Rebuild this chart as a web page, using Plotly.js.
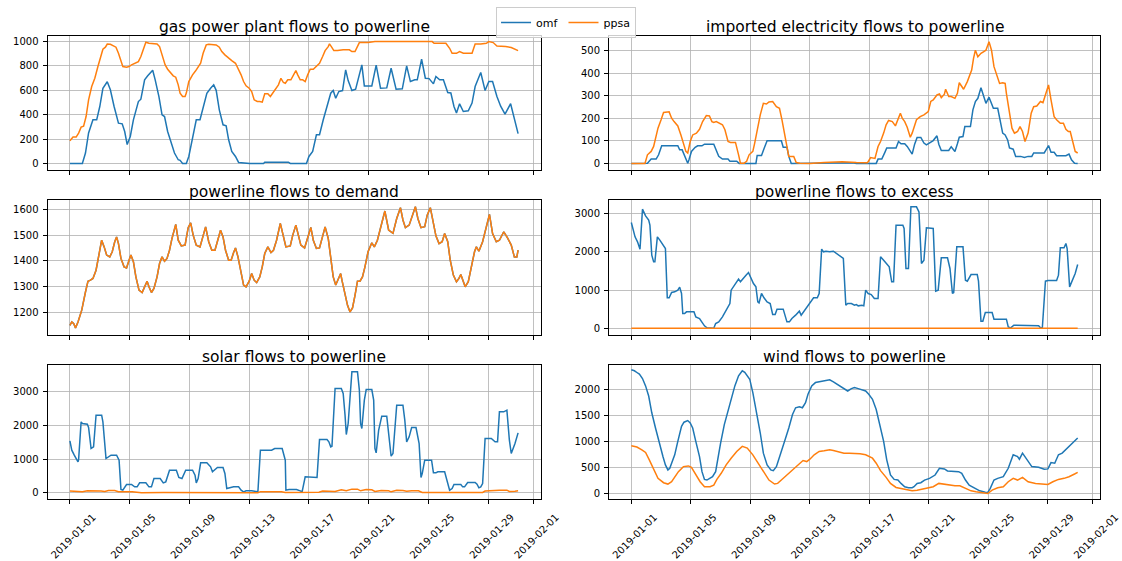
<!DOCTYPE html>
<html>
<head>
<meta charset="utf-8">
<script src="https://cdn.plot.ly/plotly-3.0.1.min.js"></script>
<style>
  html, body { margin: 0; padding: 0; background: #ffffff; }
  #chart { width: 1122px; height: 561px; }
</style>
</head>
<body>
<div id="chart"></div>
<script>
// Hourly energy flows, January 2019. Each series is a list of [hours since 2019-01-01 00:00, value].
const seriesNames = ['omf', 'ppsa'];
const panelTitles = [
  'gas power plant flows to powerline',
  'imported electricity flows to powerline',
  'powerline flows to demand',
  'powerline flows to excess',
  'solar flows to powerline',
  'wind flows to powerline'
];
const dateTicks = ['2019-01-01', '2019-01-05', '2019-01-09', '2019-01-13', '2019-01-17',
                   '2019-01-21', '2019-01-25', '2019-01-29', '2019-02-01'];

const gasOmf = [[0,0],[20,0],[25,85],[30,250],[37,358],[43,358],[48,467],[53,617],[60,670],[65,604],[71,467],[78,330],[84,325],[88,262],[92,155],[97,221],[102,358],[110,508],[114,527],[120,686],[125,719],[133,765],[137,686],[143,549],[148,399],[152,385],[157,262],[163,167],[168,85],[174,30],[177,25],[181,0],[187,0],[191,57],[197,194],[203,358],[209,358],[214,454],[220,576],[226,617],[231,645],[235,600],[240,440],[246,317],[251,309],[255,194],[260,98],[266,57],[271,8],[289,0],[311,0],[313,10],[351,10],[354,0],[380,0],[384,57],[390,98],[396,235],[401,235],[407,358],[413,467],[419,576],[423,598],[427,535],[432,590],[438,598],[443,768],[447,680],[453,598],[459,610],[469,809],[473,636],[485,636],[492,806],[499,617],[509,620],[516,781],[524,609],[534,612],[541,800],[547,672],[554,686],[558,686],[565,855],[571,699],[577,696],[584,653],[588,713],[594,686],[600,686],[607,582],[612,578],[617,467],[621,413],[626,489],[632,426],[640,432],[646,495],[651,631],[660,746],[667,598],[673,672],[679,672],[686,549],[692,470],[699,405],[708,490],[720,245]];
const gasPpsa = [[0,186],[5,216],[10,216],[14,249],[18,298],[22,305],[26,385],[30,522],[35,631],[40,699],[45,795],[49,877],[53,937],[57,954],[60,980],[65,978],[70,964],[74,954],[78,904],[81,850],[85,795],[91,790],[95,795],[99,809],[104,822],[110,836],[114,877],[118,945],[122,995],[127,986],[133,981],[140,981],[144,959],[148,891],[153,809],[157,773],[162,746],[166,719],[170,708],[174,645],[177,577],[181,549],[185,549],[187,577],[191,672],[197,727],[202,760],[206,795],[210,822],[214,904],[219,973],[223,978],[231,978],[235,973],[240,954],[244,918],[249,891],[255,863],[260,844],[266,822],[270,781],[275,727],[279,672],[283,637],[288,617],[292,590],[296,522],[301,508],[305,508],[309,503],[313,571],[318,571],[322,549],[325,571],[331,617],[335,645],[339,699],[343,664],[346,658],[350,686],[355,686],[359,719],[363,762],[366,727],[370,686],[374,686],[378,672],[382,727],[386,773],[391,773],[397,800],[401,822],[406,877],[410,926],[415,959],[417,981],[420,959],[424,926],[430,926],[439,932],[449,932],[453,918],[458,918],[462,959],[465,992],[479,992],[490,1000],[582,1000],[585,986],[604,986],[610,945],[614,904],[621,904],[626,918],[632,904],[646,904],[651,981],[660,981],[669,986],[673,1000],[680,992],[686,964],[692,964],[700,959],[709,951],[715,937],[720,926]];

const importOmf = [[0,0],[22,0],[26,1],[32,19],[40,19],[44,38],[49,78],[75,78],[78,60],[82,60],[86,31],[91,1],[93,16],[97,53],[103,71],[107,78],[114,78],[118,85],[133,85],[137,53],[141,31],[147,19],[156,19],[159,10],[170,10],[174,0],[201,0],[203,35],[210,35],[214,65],[219,100],[242,100],[245,72],[251,72],[254,31],[258,0],[311,3],[357,3],[363,0],[395,0],[398,19],[404,19],[409,49],[412,68],[427,68],[431,97],[435,87],[441,87],[445,75],[449,60],[453,41],[457,85],[461,115],[467,115],[472,90],[476,82],[481,90],[487,101],[493,122],[496,85],[500,57],[512,57],[516,74],[522,53],[526,87],[529,116],[535,119],[538,163],[547,163],[551,237],[555,274],[559,288],[564,335],[568,296],[572,266],[577,293],[579,281],[584,244],[591,244],[595,193],[599,134],[603,126],[607,104],[610,68],[616,63],[620,31],[628,31],[634,26],[640,31],[646,31],[649,46],[666,46],[670,68],[673,79],[677,49],[682,49],[686,34],[701,34],[706,41],[710,16],[715,1],[720,0]];
const importPpsa = [[0,0],[22,0],[26,38],[32,53],[36,75],[39,112],[43,156],[48,193],[52,225],[61,228],[65,200],[69,185],[75,166],[80,126],[84,90],[88,53],[91,46],[95,97],[99,126],[105,134],[110,151],[115,185],[121,212],[126,210],[130,185],[133,181],[137,185],[141,178],[147,171],[151,149],[156,97],[160,93],[168,93],[173,38],[176,1],[182,1],[186,9],[190,38],[196,53],[199,90],[203,149],[208,215],[213,266],[218,263],[222,272],[228,274],[234,251],[239,244],[243,193],[248,126],[251,75],[254,31],[262,31],[266,4],[272,1],[288,0],[311,4],[340,7],[363,4],[381,3],[386,26],[393,22],[398,75],[402,97],[407,134],[411,171],[415,190],[421,185],[426,166],[430,193],[434,222],[437,200],[441,185],[445,160],[450,116],[453,134],[456,163],[460,193],[466,207],[472,215],[479,229],[483,274],[487,281],[493,303],[497,307],[500,291],[505,306],[507,328],[512,296],[516,296],[522,288],[526,310],[529,357],[533,340],[536,328],[542,362],[545,384],[549,413],[552,465],[555,501],[559,472],[564,487],[568,494],[572,501],[577,538],[581,501],[585,428],[589,391],[594,354],[599,357],[603,354],[605,310],[610,222],[614,156],[618,134],[623,141],[627,163],[631,141],[635,97],[640,134],[645,222],[649,251],[654,254],[660,274],[664,269],[669,310],[673,347],[677,281],[682,207],[686,193],[692,178],[697,178],[701,151],[705,141],[708,141],[712,97],[716,53],[720,46]];

// Demand is served in full under both models, so the two series coincide.
const demandOmf = [[0,1149],[3,1162],[6,1156],[9,1139],[13,1162],[19,1208],[25,1279],[29,1321],[33,1325],[37,1332],[42,1364],[47,1423],[51,1481],[55,1455],[59,1423],[64,1416],[68,1436],[72,1475],[75,1494],[78,1468],[82,1410],[87,1377],[91,1373],[95,1403],[98,1423],[102,1397],[106,1338],[111,1286],[116,1277],[120,1299],[124,1321],[127,1299],[131,1277],[135,1293],[140,1338],[144,1390],[148,1416],[152,1399],[156,1410],[160,1442],[164,1488],[170,1543],[174,1481],[179,1459],[185,1462],[190,1530],[194,1549],[198,1501],[203,1462],[209,1455],[213,1488],[218,1533],[223,1475],[228,1442],[233,1442],[237,1475],[242,1520],[246,1494],[250,1442],[255,1403],[259,1403],[263,1433],[266,1451],[270,1416],[275,1351],[279,1306],[283,1299],[288,1321],[292,1351],[296,1325],[300,1316],[305,1338],[309,1377],[313,1429],[318,1455],[323,1433],[327,1442],[332,1481],[338,1547],[342,1501],[347,1455],[354,1459],[358,1501],[363,1540],[367,1501],[371,1462],[377,1451],[382,1494],[387,1531],[391,1481],[396,1449],[401,1451],[406,1501],[410,1533],[415,1488],[419,1410],[423,1338],[427,1306],[431,1332],[435,1351],[437,1325],[442,1273],[446,1227],[450,1201],[454,1217],[458,1266],[462,1321],[466,1321],[470,1338],[474,1377],[479,1436],[485,1471],[489,1455],[494,1481],[499,1527],[506,1595],[512,1521],[519,1508],[525,1566],[531,1608],[535,1560],[539,1530],[545,1540],[551,1582],[555,1612],[559,1566],[564,1530],[570,1534],[574,1579],[579,1608],[584,1553],[588,1498],[593,1468],[598,1475],[602,1507],[607,1475],[611,1403],[616,1345],[621,1319],[625,1332],[628,1347],[631,1329],[635,1299],[640,1319],[644,1371],[650,1436],[653,1455],[657,1438],[663,1475],[669,1540],[674,1582],[679,1507],[685,1475],[690,1481],[697,1514],[703,1490],[709,1462],[714,1416],[718,1416],[720,1442]];
const demandPpsa = demandOmf;

const excessOmf = [[0,2772],[3,2571],[6,2396],[10,2265],[13,2073],[14,2073],[18,3122],[23,2947],[28,2834],[30,2702],[33,1915],[36,1740],[38,1740],[40,2003],[42,2396],[46,2309],[52,2178],[55,2090],[58,796],[61,796],[65,936],[70,953],[75,997],[78,1076],[81,910],[83,385],[86,385],[89,429],[101,429],[104,297],[110,254],[114,166],[118,61],[122,9],[133,0],[136,122],[141,166],[147,297],[153,472],[159,647],[161,997],[167,1146],[173,1286],[176,1216],[180,1303],[185,1391],[189,1460],[193,1303],[197,1172],[201,1084],[204,691],[206,665],[210,910],[214,796],[219,691],[224,647],[228,359],[232,359],[235,499],[245,499],[248,297],[251,166],[255,166],[259,254],[265,341],[271,446],[274,341],[277,411],[283,560],[288,673],[294,796],[300,796],[303,910],[307,2073],[310,2003],[314,2020],[320,2003],[326,2020],[331,1959],[337,1889],[342,1828],[346,603],[349,647],[355,647],[360,603],[363,620],[366,586],[372,603],[375,586],[378,997],[382,910],[387,883],[392,778],[398,778],[402,1872],[407,1784],[412,1697],[416,1609],[420,1216],[423,1216],[427,2703],[438,2703],[440,2615],[443,1566],[447,1566],[451,3184],[460,3184],[464,3052],[468,1697],[472,1784],[476,2633],[484,2633],[487,2615],[491,971],[495,997],[500,1845],[510,1845],[514,1566],[518,910],[520,936],[525,2134],[535,2134],[539,1259],[542,1233],[548,1408],[558,1408],[560,1233],[564,184],[567,184],[571,411],[582,411],[585,236],[605,236],[608,35],[612,9],[617,79],[654,79],[657,61],[660,9],[663,9],[668,1233],[672,1251],[686,1251],[689,1391],[692,2108],[698,2108],[701,2222],[703,2090],[707,1084],[712,1259],[716,1434],[720,1670]];
const excessPpsa = [[0,0],[720,0]];

const solarOmf = [[0,1545],[3,1267],[7,1119],[13,921],[14,990],[18,2109],[20,2059],[28,2040],[30,1941],[34,1317],[38,1366],[42,2307],[51,2307],[53,2109],[58,1020],[62,1070],[66,1119],[75,1119],[79,970],[82,99],[85,79],[91,248],[99,248],[104,178],[108,178],[112,297],[122,297],[127,178],[131,178],[135,426],[145,426],[150,297],[154,327],[160,673],[171,673],[175,455],[180,426],[186,673],[197,673],[201,525],[203,297],[206,426],[210,891],[220,891],[226,772],[229,624],[233,693],[237,752],[246,752],[249,574],[252,129],[258,149],[263,178],[271,178],[275,79],[279,30],[283,59],[292,59],[298,30],[302,30],[306,1267],[324,1267],[329,1317],[341,1317],[346,970],[347,79],[352,99],[364,99],[370,59],[373,30],[378,475],[387,475],[393,455],[397,455],[401,1584],[413,1584],[416,1515],[419,1366],[421,1386],[426,3099],[436,3099],[439,2950],[442,2307],[444,1733],[447,2059],[453,3594],[462,3594],[465,3050],[467,2059],[469,1911],[473,2752],[476,3069],[485,3069],[488,2752],[490,1317],[492,1188],[496,1861],[501,2277],[509,2277],[513,1564],[516,1089],[519,1168],[525,2604],[535,2604],[538,2158],[541,1515],[545,1663],[549,1941],[556,1941],[561,1465],[564,455],[566,574],[570,970],[581,970],[584,594],[588,594],[591,624],[602,624],[607,277],[610,79],[614,129],[617,248],[628,248],[631,178],[634,178],[639,307],[651,307],[654,257],[657,149],[660,178],[663,277],[667,1614],[677,1614],[683,1515],[687,1515],[690,2406],[697,2406],[702,2455],[706,1564],[709,1168],[715,1465],[720,1782]];
const solarPpsa = [[0,55],[10,45],[20,35],[28,60],[40,65],[50,55],[56,40],[62,70],[72,70],[78,35],[100,30],[108,20],[115,5],[150,10],[200,15],[250,10],[290,5],[302,5],[306,35],[340,35],[346,10],[380,15],[400,20],[406,55],[420,55],[426,40],[436,90],[444,60],[453,110],[462,110],[467,60],[476,100],[485,90],[490,40],[500,70],[512,60],[516,30],[525,75],[535,70],[541,45],[549,60],[560,60],[566,10],[600,15],[640,10],[663,10],[667,55],[687,55],[690,75],[702,80],[706,40],[715,50],[720,60]];

const windOmf = [[0,2388],[5,2369],[9,2336],[13,2304],[18,2220],[23,2078],[28,1883],[33,1560],[39,1268],[45,977],[51,718],[55,557],[59,460],[62,492],[66,621],[70,751],[75,1010],[81,1301],[85,1379],[91,1411],[95,1366],[99,1268],[104,1010],[110,718],[114,427],[118,278],[122,265],[127,298],[131,330],[136,427],[138,589],[144,977],[150,1333],[156,1592],[161,1832],[167,2078],[173,2272],[179,2369],[183,2340],[187,2272],[191,2207],[196,1948],[202,1592],[208,1171],[213,783],[219,557],[225,460],[229,447],[234,524],[238,686],[242,848],[248,1042],[254,1268],[260,1527],[265,1657],[271,1676],[276,1657],[281,1754],[285,1916],[291,2078],[297,2142],[303,2155],[308,2175],[314,2188],[320,2194],[326,2155],[332,2110],[337,2078],[343,2026],[349,1980],[355,2026],[360,2045],[366,2026],[372,2000],[378,1980],[383,1916],[389,1819],[395,1624],[401,1333],[407,1010],[412,654],[418,362],[424,278],[430,265],[435,201],[441,136],[447,117],[453,117],[456,136],[461,201],[467,214],[473,265],[481,298],[490,362],[497,492],[505,479],[510,440],[519,427],[528,427],[533,395],[539,265],[545,168],[554,104],[562,58],[571,32],[575,26],[579,104],[585,265],[591,298],[600,330],[608,492],[616,751],[623,718],[626,667],[631,783],[640,621],[646,524],[657,511],[666,472],[672,480],[677,602],[683,590],[689,751],[695,783],[703,880],[712,977],[720,1074]];
const windPpsa = [[0,925],[9,900],[17,848],[23,796],[29,654],[36,460],[43,298],[52,214],[59,188],[65,233],[70,317],[76,427],[84,524],[92,537],[97,511],[103,395],[111,233],[118,136],[127,136],[133,168],[138,278],[145,395],[153,557],[161,686],[170,815],[179,913],[187,880],[196,751],[205,589],[213,427],[222,265],[231,188],[236,201],[242,265],[251,362],[259,460],[268,557],[277,641],[283,621],[288,667],[295,751],[303,815],[311,828],[320,848],[326,835],[334,815],[343,783],[352,783],[360,783],[369,770],[378,751],[384,718],[389,686],[395,589],[402,447],[411,317],[418,201],[427,123],[435,104],[444,71],[453,58],[461,71],[470,91],[479,104],[487,136],[496,201],[505,181],[513,168],[522,155],[530,155],[539,104],[548,58],[556,39],[568,19],[575,6],[582,71],[591,117],[600,136],[608,233],[616,298],[623,265],[631,317],[640,233],[652,201],[666,181],[672,181],[680,233],[689,278],[698,298],[706,330],[715,382],[720,414]];

const panelSeries = [
  [gasOmf, gasPpsa],
  [importOmf, importPpsa],
  [demandOmf, demandPpsa],
  [excessOmf, excessPpsa],
  [solarOmf, solarPpsa],
  [windOmf, windPpsa]
];

// ---- presentation ----
const COLORS = ['#1f77b4', '#ff7f0e'];
const FONT = 'DejaVu Sans, Liberation Sans, sans-serif';
const W = 1122, H = 561;
// axes boxes in pixels: [left, right] per column, [top, bottom] per row
const COLS = [[47.5, 540.5], [609, 1100]];
const ROWS = [[35.5, 169.5], [199.5, 334.5], [364.5, 498.5]];
const Y_RANGES = [[-50, 1050], [-27, 566], [1113, 1640], [-166, 3376], [-168, 3812], [-90, 2490]];
const Y_DTICK = [200, 100, 100, 1000, 1000, 500];
const X_RANGE = ['2018-12-30 12:00', '2019-02-01 12:00'];

const t0 = Date.UTC(2019, 0, 1);
function hourToDate(h) {
  return new Date(t0 + h * 3600000).toISOString().slice(0, 19).replace('T', ' ');
}

const traces = [];
const layout = {
  width: W, height: H,
  margin: {l: 0, r: 0, t: 0, b: 0, pad: 0},
  paper_bgcolor: '#ffffff', plot_bgcolor: '#ffffff',
  font: {family: FONT, size: 10, color: '#000000'},
  showlegend: true,
  legend: {
    orientation: 'h', x: 0.5045, xanchor: 'center', y: 1 - 7 / H, yanchor: 'top',
    bordercolor: '#cccccc', borderwidth: 1, bgcolor: 'rgba(255,255,255,0.8)',
    font: {family: FONT, size: 11, color: '#000000'},
    itemwidth: 30, tracegroupgap: 0
  },
  annotations: []
};

panelSeries.forEach((pair, p) => {
  const row = Math.floor(p / 2), col = p % 2;
  const n = p + 1;
  const xa = n === 1 ? 'xaxis' : 'xaxis' + n;
  const ya = n === 1 ? 'yaxis' : 'yaxis' + n;
  const xr = n === 1 ? 'x' : 'x' + n;
  const yr = n === 1 ? 'y' : 'y' + n;

  pair.forEach((pts, s) => {
    traces.push({
      type: 'scatter', mode: 'lines',
      x: pts.map(d => hourToDate(d[0])),
      y: pts.map(d => d[1]),
      name: seriesNames[s],
      legendgroup: seriesNames[s],
      showlegend: p === 0,
      line: {color: COLORS[s], width: 1.5},
      xaxis: xr, yaxis: yr,
      hoverinfo: 'skip'
    });
  });

  const common = {
    showline: true, mirror: true, linecolor: '#000000', linewidth: 1,
    ticks: 'outside', ticklen: 4, tickwidth: 1, tickcolor: '#000000',
    showgrid: true, gridcolor: '#b0b0b0', gridwidth: 0.8,
    zeroline: false, fixedrange: true,
    tickfont: {family: FONT, size: 10, color: '#000000'}
  };
  const bottom = row === 2;
  layout[xa] = Object.assign({}, common, {
    type: 'date', range: X_RANGE, anchor: yr,
    domain: [COLS[col][0] / W, COLS[col][1] / W],
    tickmode: 'array', tickvals: dateTicks, ticktext: dateTicks,
    showticklabels: bottom, tickangle: -45, ticklabelshift: 23, ticklabelstandoff: 4
  });
  layout[ya] = Object.assign({}, common, {
    range: Y_RANGES[p], dtick: Y_DTICK[p], anchor: xr,
    domain: [1 - ROWS[row][1] / H, 1 - ROWS[row][0] / H],
    ticklabelstandoff: 2
  });
  layout.annotations.push({
    text: panelTitles[p], showarrow: false,
    xref: 'paper', yref: 'paper',
    x: (COLS[col][0] + COLS[col][1]) / 2 / W, xanchor: 'center',
    y: 1 - ROWS[row][0] / H, yanchor: 'bottom', yshift: -3,
    font: {family: FONT, size: 15.5, color: '#000000'}
  });
});

Plotly.newPlot('chart', traces, layout, {displayModeBar: false, staticPlot: true});
</script>
</body>
</html>
